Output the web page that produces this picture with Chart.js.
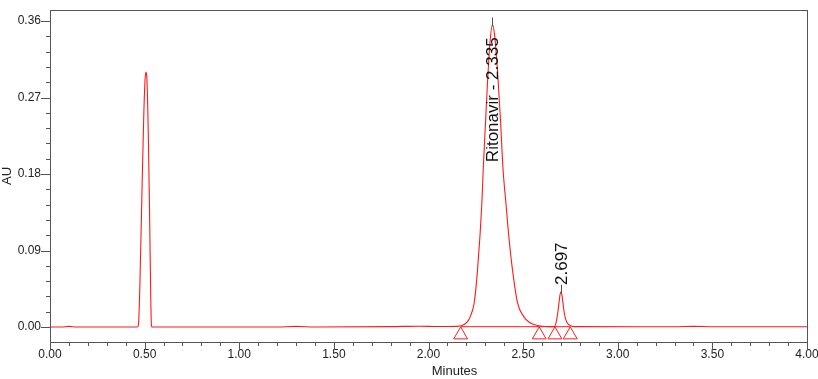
<!DOCTYPE html>
<html>
<head>
<meta charset="utf-8">
<script src="https://cdn.jsdelivr.net/npm/chart.js@4"></script>
<style>
    html, body { margin: 0; padding: 0; background: #fff; }
    #wrap { width: 818px; height: 379px; position: relative; }
</style>
</head>
<body>
<div id="wrap"><canvas id="chromChart"></canvas></div>
<script>
// detector trace (minutes, AU)
const signalTime = [0.00, 0.06, 0.10, 0.14, 0.46, 0.467, 0.475, 0.485, 0.495, 0.502, 0.507, 0.512, 0.52, 0.527, 0.532, 0.536, 0.54,
    1.20, 1.30, 1.40, 1.80, 1.95, 2.05, 2.15, 2.18, 2.205, 2.22, 2.241, 2.259, 2.282, 2.289, 2.30, 2.31, 2.325, 2.338, 2.35,
    2.365, 2.38, 2.394, 2.409, 2.425, 2.444, 2.471, 2.504, 2.53, 2.557, 2.60, 2.64, 2.665, 2.675, 2.685, 2.695, 2.70, 2.707,
    2.715, 2.725, 2.74, 2.77, 3.30, 3.40, 3.50, 4.00];
const signalAU = [0, 0, 0.0008, 0, 0, 0.002, 0.05, 0.15, 0.245, 0.29, 0.300, 0.292, 0.22, 0.12, 0.04, 0.002, 0,
    0, 0.0008, 0, 0.0005, 0.001, 0.0006, 0.0008, 0.002, 0.006, 0.012, 0.028, 0.067, 0.146, 0.185, 0.235, 0.28, 0.335, 0.356, 0.342,
    0.30, 0.245, 0.185, 0.146, 0.105, 0.067, 0.028, 0.012, 0.006, 0.003, 0.001, 0.0005, 0.0005, 0.006, 0.02, 0.038, 0.0415, 0.035,
    0.02, 0.009, 0.003, 0.0005, 0.0003, 0.0008, 0.0003, 0.0003];

// integration start/end markers
const markerTime = [2.17, 2.585, 2.668, 2.749];
const markerAU = [-0.0092, -0.0092, -0.0092, -0.0092];

// integration baseline
const baseTime = [2.17, 2.749];
const baseAU = [0.0004, 0.0004];

// peak labels (text starts at labelStartAU and reads upwards)
const peakTime = [2.338, 2.70];
const peakAU = [0.356, 0.0415];
const peakLabel = ["Ritonavir - 2.335", "2.697"];
const labelStartAU = [0.194, 0.0495];

const xTickValues = [0.00, 0.50, 1.00, 1.50, 2.00, 2.50, 3.00, 3.50, 4.00];
const yTickValues = [0.00, 0.09, 0.18, 0.27, 0.36];
const xMinorStep = 0.1;
const yMinorStep = 0.018;

const FONT = "'Liberation Sans', Arial, sans-serif";

const toPoints = (xs, ys) => xs.map((x, i) => ({ x: x, y: ys[i] }));

// frame, tick marks, peak labels and x title
const decorations = {
    id: "decorations",
    afterDraw(chart) {
        const ctx = chart.ctx;
        const area = chart.chartArea;
        const xs = chart.scales.x;
        const ys = chart.scales.y;

        ctx.save();
        ctx.strokeStyle = "#555";
        ctx.lineWidth = 1;
        ctx.strokeRect(Math.round(area.left) + 0.5, Math.round(area.top) + 0.5,
            Math.round(area.right - area.left), Math.round(area.bottom - area.top));

        // x ticks
        ctx.beginPath();
        for (let i = 0; i <= 40; i++) {
            const v = i * xMinorStep;
            const px = Math.round(xs.getPixelForValue(v)) + 0.5;
            const len = (i % 5 === 0) ? 8 : 4;
            ctx.moveTo(px, area.bottom);
            ctx.lineTo(px, area.bottom + len);
        }
        // y ticks
        for (let i = 0; i <= 20; i++) {
            const v = i * yMinorStep;
            const py = Math.round(ys.getPixelForValue(v)) + 0.5;
            const len = (i % 5 === 0) ? 9 : 4;
            ctx.moveTo(area.left, py);
            ctx.lineTo(area.left - len, py);
        }
        ctx.stroke();

        // peak apex marks and labels
        ctx.font = "17px " + FONT;
        ctx.fillStyle = "#111";
        peakTime.forEach((t, i) => {
            const px = xs.getPixelForValue(t);
            const apex = ys.getPixelForValue(peakAU[i]);
            ctx.strokeStyle = "#555";
            ctx.beginPath();
            ctx.moveTo(Math.round(px) + 0.5, apex - 7);
            ctx.lineTo(Math.round(px) + 0.5, apex + 2);
            ctx.stroke();

            ctx.save();
            ctx.translate(px + 1, ys.getPixelForValue(labelStartAU[i]));
            ctx.rotate(-Math.PI / 2);
            ctx.textAlign = "left";
            ctx.textBaseline = "middle";
            ctx.fillText(peakLabel[i], 0, 0);
            ctx.restore();
        });

        // x axis title
        ctx.font = "13px " + FONT;
        ctx.fillStyle = "#222";
        ctx.textAlign = "center";
        ctx.textBaseline = "middle";
        ctx.fillText("Minutes", (area.left + area.right) / 2 + 26, 371);
        ctx.restore();
    }
};

const ctx = document.getElementById("chromChart").getContext("2d");
const chart = new Chart(ctx, {
    type: "line",
    data: {
        datasets: [
            {
                label: "Signal",
                data: toPoints(signalTime, signalAU),
                borderColor: "#ff1a1a",
                borderWidth: 1.1,
                pointRadius: 0,
                fill: false,
                cubicInterpolationMode: "monotone"
            },
            {
                label: "Baseline",
                data: toPoints(baseTime, baseAU),
                borderColor: "#ff1a1a",
                borderWidth: 1,
                pointRadius: 0,
                fill: false
            },
            {
                label: "Markers",
                data: toPoints(markerTime, markerAU),
                showLine: false,
                pointStyle: "triangle",
                pointRadius: 8,
                pointBorderWidth: 1,
                pointBorderColor: "#ff1a1a",
                pointBackgroundColor: "rgba(0,0,0,0)",
                clip: false
            }
        ]
    },
    options: {
        responsive: true,
        maintainAspectRatio: false,
        animation: false,
        layout: { padding: { top: 10, right: 11, left: 0, bottom: 0 } },
        plugins: {
            legend: { display: false },
            tooltip: { enabled: false }
        },
        scales: {
            x: {
                type: "linear",
                min: 0,
                max: 4,
                afterBuildTicks: scale => {
                    scale.ticks = xTickValues.map(v => ({ value: v }));
                },
                afterFit: scale => {
                    scale.height = 37;
                    scale.paddingLeft = 0;
                    scale.paddingRight = 0;
                },
                grid: { display: false, drawTicks: false },
                border: { display: false },
                ticks: {
                    padding: 5,
                    maxRotation: 0,
                    autoSkip: false,
                    color: "#222",
                    font: { family: FONT, size: 12 },
                    callback: v => Number(v).toFixed(2)
                }
            },
            y: {
                type: "linear",
                min: -0.0176,
                max: 0.373,
                afterBuildTicks: scale => {
                    scale.ticks = yTickValues.map(v => ({ value: v }));
                },
                afterFit: scale => {
                    scale.width = 50;
                    scale.paddingTop = 0;
                    scale.paddingBottom = 0;
                },
                grid: { display: false, drawTicks: false },
                border: { display: false },
                title: {
                    display: true,
                    text: "AU",
                    color: "#222",
                    font: { family: FONT, size: 13 },
                    padding: { top: 0, bottom: 0 }
                },
                ticks: {
                    padding: 9,
                    autoSkip: false,
                    color: "#222",
                    font: { family: FONT, size: 12 },
                    callback: v => Number(v).toFixed(2)
                }
            }
        }
    },
    plugins: [decorations]
});
</script>
</body>
</html>
